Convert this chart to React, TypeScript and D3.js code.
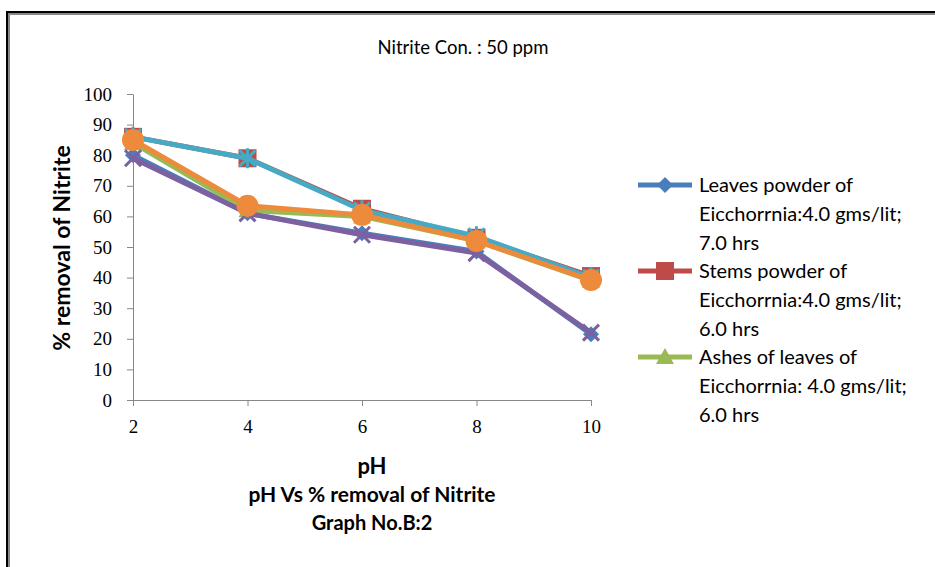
import React, { useEffect, useRef } from 'react';
import * as d3 from 'd3';

const phValues = [2, 4, 6, 8, 10];
const leavesPowder = [80, 61, 54.5, 48.5, 21.5];
const stemsPowder = [86, 79, 62.5, 53, 40.5];
const ashesLeaves = [84, 62, 60, 52, 39];
const series4 = [79, 61, 54, 48, 22];
const series5 = [86, 79, 62, 53.5, 40];
const series6 = [85, 63.5, 60.5, 52, 39.2];
const yTicks = [0, 10, 20, 30, 40, 50, 60, 70, 80, 90, 100];

const legendLines = [
  ['Leaves powder of', 'Eicchorrnia:4.0 gms/lit;', '7.0 hrs'],
  ['Stems powder of', 'Eicchorrnia:4.0 gms/lit;', '6.0 hrs'],
  ['Ashes of leaves of', 'Eicchorrnia: 4.0 gms/lit;', '6.0 hrs'],
];

const seriesList = [
  { values: leavesPowder, color: '#4A7EBB', marker: 'diamond' },
  { values: stemsPowder, color: '#BE4B48', marker: 'square' },
  { values: ashesLeaves, color: '#98B954', marker: 'triangle' },
  { values: series4, color: '#7D60A0', marker: 'x' },
  { values: series5, color: '#46AAC5', marker: 'star' },
  { values: series6, color: '#EE8A3C', marker: 'circle' },
];

const W = 935, H = 567;

function drawMarker(g: any, type: string, x: number, y: number, color: string) {
  if (type === 'diamond') {
    g.append('path').attr('d', `M${x},${y - 8}L${x + 8},${y}L${x},${y + 8}L${x - 8},${y}Z`).attr('fill', color);
  } else if (type === 'square') {
    g.append('rect').attr('x', x - 9).attr('y', y - 9).attr('width', 18).attr('height', 18).attr('fill', color);
  } else if (type === 'triangle') {
    g.append('path').attr('d', `M${x},${y - 9}L${x + 9},${y + 7}L${x - 9},${y + 7}Z`).attr('fill', color);
  } else if (type === 'x') {
    g.append('path').attr('d', `M${x - 8},${y - 8}L${x + 8},${y + 8}M${x + 8},${y - 8}L${x - 8},${y + 8}`)
      .attr('stroke', color).attr('stroke-width', 3);
  } else if (type === 'star') {
    g.append('path').attr('d', `M${x - 8},${y - 8}L${x + 8},${y + 8}M${x + 8},${y - 8}L${x - 8},${y + 8}M${x},${y - 10}L${x},${y + 10}`)
      .attr('stroke', color).attr('stroke-width', 3);
  } else {
    g.append('circle').attr('cx', x).attr('cy', y).attr('r', 11).attr('fill', color);
  }
}

const App: React.FC = () => {
  const ref = useRef<SVGSVGElement>(null);

  useEffect(() => {
    if (!ref.current) return;
    const svg = d3.select(ref.current);
    svg.selectAll('*').remove();

    // frame
    svg.append('rect').attr('x', 9).attr('y', 14).attr('width', W).attr('height', H)
      .attr('fill', 'none').attr('stroke', '#888').attr('stroke-width', 2);
    svg.append('rect').attr('x', 7).attr('y', 12).attr('width', W).attr('height', H)
      .attr('fill', 'none').attr('stroke', '#000').attr('stroke-width', 2);

    const x = d3.scaleLinear().domain([2, 10]).range([133, 591]);
    const y = d3.scaleLinear().domain([0, 100]).range([400, 94]);

    svg.append('text').attr('x', 463).attr('y', 54).attr('text-anchor', 'middle')
      .style('font-family', 'Lato').style('font-size', '18.5px').text('Nitrite Con. : 50 ppm');

    const yAxis = svg.append('g').attr('transform', 'translate(133,0)')
      .call(d3.axisLeft(y).tickValues(yTicks).tickSize(6).tickSizeOuter(0));
    yAxis.select('.domain').attr('stroke', '#888');
    yAxis.selectAll('.tick line').attr('stroke', '#888');
    yAxis.selectAll('.tick text').attr('x', -21).style('font-family', 'Liberation Serif')
      .style('font-size', '19px').attr('fill', '#000');

    const xAxis = svg.append('g').attr('transform', 'translate(0,400)')
      .call(d3.axisBottom(x).tickValues(phValues).tickSize(6).tickSizeOuter(0));
    xAxis.select('.domain').attr('stroke', '#888');
    xAxis.selectAll('.tick line').attr('stroke', '#888');
    xAxis.selectAll('.tick text').attr('y', 20).style('font-family', 'Liberation Serif')
      .style('font-size', '19px').attr('fill', '#000');

    const line = d3.line<number>().x((_, i) => x(phValues[i])).y(d => y(d));
    seriesList.forEach(s => {
      const g = svg.append('g');
      g.append('path').datum(s.values).attr('d', line).attr('fill', 'none')
        .attr('stroke', s.color).attr('stroke-width', 5).attr('stroke-linejoin', 'round');
      s.values.forEach((v, i) => drawMarker(g, s.marker, x(phValues[i]), y(v), s.color));
    });

    // legend
    legendLines.forEach((lines, i) => {
      const s = seriesList[i];
      const top = 185 + i * 86;
      const g = svg.append('g');
      g.append('line').attr('x1', 638).attr('x2', 692).attr('y1', top).attr('y2', top)
        .attr('stroke', s.color).attr('stroke-width', 5);
      drawMarker(g, s.marker, 665, top, s.color);
      lines.forEach((t, j) => {
        g.append('text').attr('x', 699).attr('y', top + 7 + j * 29)
          .style('font-family', 'Lato').style('font-size', '20px').text(t);
      });
    });

    svg.append('text').attr('transform', 'translate(70,248) rotate(-90)').attr('text-anchor', 'middle')
      .style('font-family', 'Lato').style('font-weight', 'bold').style('font-size', '23px')
      .text('% removal of Nitrite');

    const bottom = [['pH', 474, 22], ['pH Vs % removal of Nitrite', 502, 21], ['Graph No.B:2', 530, 20]];
    bottom.forEach(([t, yy, fs]) => {
      svg.append('text').attr('x', 372).attr('y', yy as number).attr('text-anchor', 'middle')
        .style('font-family', 'Lato').style('font-weight', 'bold').style('font-size', `${fs}px`)
        .text(t as string);
    });
  }, []);

  return <svg ref={ref} width={W} height={H} style={{ position: 'absolute', left: 0, top: 0, background: '#fff' }} />;
};

export default App;
